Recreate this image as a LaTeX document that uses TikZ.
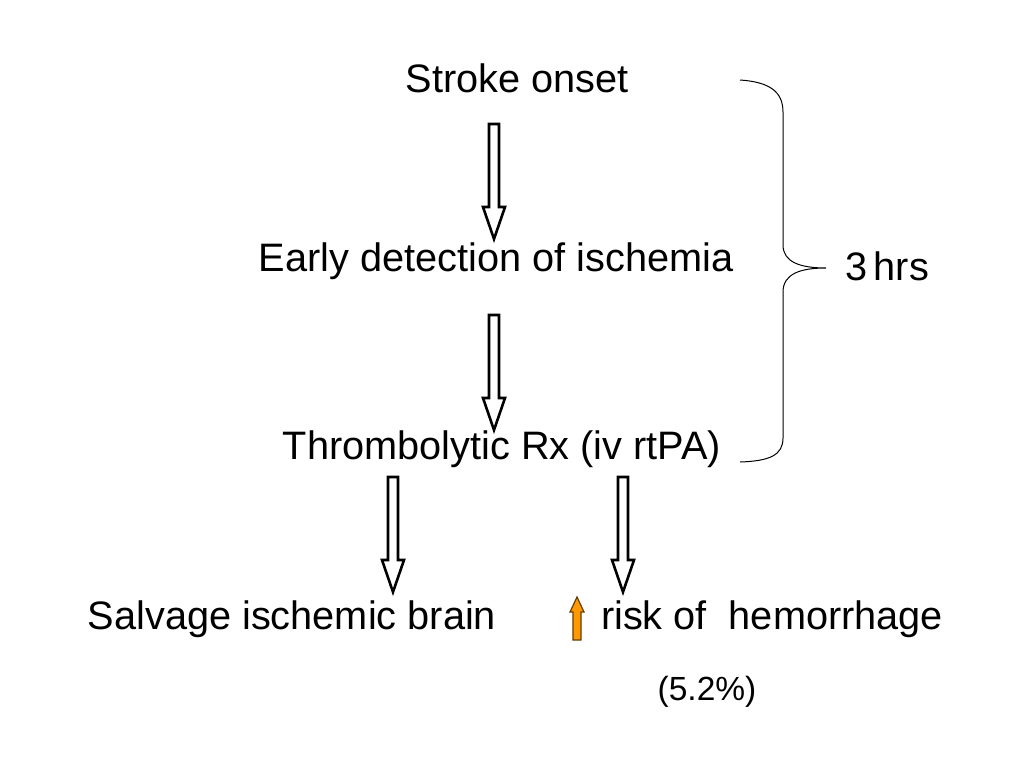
\documentclass[tikz,border=0pt]{standalone}
\usepackage{fontspec}
\setmainfont{Liberation Sans}
\usepackage{tikz}
\usetikzlibrary{positioning,calc}
\definecolor{uporange}{RGB}{255,153,0}

\tikzset{
	lbl/.style={font=\fontsize{39.7}{48}\selectfont,anchor=base,inner sep=0pt},
	small/.style={font=\fontsize{33.5}{40}\selectfont,anchor=base,inner sep=0pt},
	hollow/.pic={
		\draw[line width=2.6pt,line join=miter]
		(-5,0) -- (-5,83) -- (-11,83) -- (0,115) -- (11,83) -- (5,83) -- (5,0) -- cycle;
	}
}

\begin{document}
\begin{tikzpicture}[x=1pt,y=-1pt]
	\useasboundingbox (0,0) rectangle (1024,768);
	% steps
	\node[lbl] (onset) at (517,92) {Stroke onset};
	\node[lbl] (detect) at (496,271) {Early detection of ischemia};
	\node[lbl] (lysis) at (502,459) {Thrombolytic Rx (iv rtPA)};
	\node[lbl] (salvage) at (292,629) {Salvage ischemic brain};
	\node[lbl] (risk) at (772,629) {risk of\ \ hemorrhage};
	\node[small] (pct) at (707,700) {(5.2\%)};
	\node[lbl] (hrs) at (887,280) {3\,hrs};
	% block arrows
	\pic at (494,124) {hollow};
	\pic at (494,315) {hollow};
	\pic at (393,477) {hollow};
	\pic at (623,477) {hollow};
	% up arrow
	\draw[fill=uporange,draw=black!60!uporange,line width=1.2pt]
	(573,640) -- (573,612) -- (570,612) -- (577,597) -- (584,612) -- (581,612) -- (581,640) -- cycle;
	% brace
	\draw[line width=1pt]
	(740,80) .. controls (770,82) and (783,92) .. (783,112) -- (783,245)
	.. controls (783,262) and (800,268) .. (826,268)
	.. controls (800,268) and (783,274) .. (783,292) -- (783,438)
	.. controls (783,455) and (770,461) .. (740,462);
\end{tikzpicture}
\end{document}
